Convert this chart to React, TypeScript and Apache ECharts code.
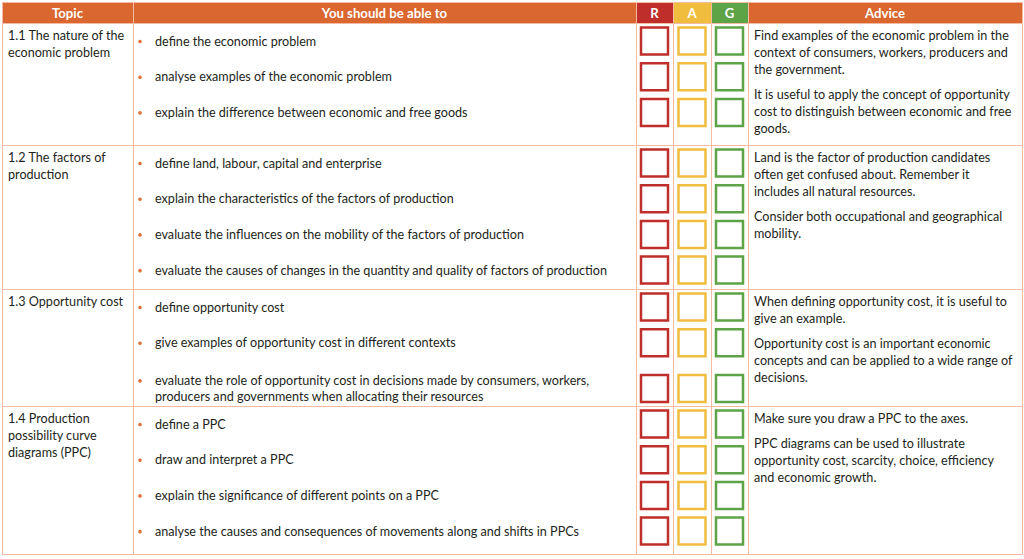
import React, { useEffect, useRef } from "react";
import * as echarts from "echarts";

const headers = ["Topic", "You should be able to", "R", "A", "G", "Advice"];

const topics: string[][] = [
  ["1.1 The nature of the", "economic problem"],
  ["1.2 The factors of", "production"],
  ["1.3 Opportunity cost"],
  ["1.4 Production", "possibility curve", "diagrams (PPC)"],
];

const skills: string[][][] = [
  [
    ["define the economic problem"],
    ["analyse examples of the economic problem"],
    ["explain the difference between economic and free goods"],
  ],
  [
    ["define land, labour, capital and enterprise"],
    ["explain the characteristics of the factors of production"],
    ["evaluate the influences on the mobility of the factors of production"],
    ["evaluate the causes of changes in the quantity and quality of factors of production"],
  ],
  [
    ["define opportunity cost"],
    ["give examples of opportunity cost in different contexts"],
    [
      "evaluate the role of opportunity cost in decisions made by consumers, workers,",
      "producers and governments when allocating their resources",
    ],
  ],
  [
    ["define a PPC"],
    ["draw and interpret a PPC"],
    ["explain the significance of different points on a PPC"],
    ["analyse the causes and consequences of movements along and shifts in PPCs"],
  ],
];

const advice: string[][][] = [
  [
    [
      "Find examples of the economic problem in the",
      "context of consumers, workers, producers and",
      "the government.",
    ],
    [
      "It is useful to apply the concept of opportunity",
      "cost to distinguish between economic and free",
      "goods.",
    ],
  ],
  [
    [
      "Land is the factor of production candidates",
      "often get confused about. Remember it",
      "includes all natural resources.",
    ],
    ["Consider both occupational and geographical", "mobility."],
  ],
  [
    ["When defining opportunity cost, it is useful to", "give an example."],
    [
      "Opportunity cost is an important economic",
      "concepts and can be applied to a wide range of",
      "decisions.",
    ],
  ],
  [
    ["Make sure you draw a PPC to the axes."],
    [
      "PPC diagrams can be used to illustrate",
      "opportunity cost, scarcity, choice, efficiency",
      "and economic growth.",
    ],
  ],
];

// layout
const COLS = [2, 133, 636, 673, 711, 748, 1022];
const HEAD_TOP = 2;
const HEAD_BOTTOM = 23;
const ROWS = [23, 145, 289, 406, 554];

const ORANGE = "#DA6630";
const RAG = ["#BF2E2A", "#F0BD3E", "#5DA447"];
const GRID = "#F3BCA2";
const TEXT = "#231F20";
const FONT = "Lato, 'Open Sans', sans-serif";
const FS = 12.6;
const LH = 17;

function buildGraphics() {
  const els: any[] = [];
  // header background
  els.push({
    type: "rect",
    shape: { x: COLS[0], y: HEAD_TOP, width: COLS[6] - COLS[0], height: HEAD_BOTTOM - HEAD_TOP },
    style: { fill: ORANGE },
  });
  for (let k = 0; k < 3; k++) {
    els.push({
      type: "rect",
      shape: { x: COLS[2 + k], y: HEAD_TOP, width: COLS[3 + k] - COLS[2 + k], height: HEAD_BOTTOM - HEAD_TOP },
      style: { fill: RAG[k] },
    });
  }
  headers.forEach((h, i) => {
    els.push({
      type: "text",
      x: (COLS[i] + COLS[i + 1]) / 2,
      y: (HEAD_TOP + HEAD_BOTTOM) / 2 + 0.5,
      style: {
        text: h,
        fill: "#ffffff",
        font: `bold 13.2px ${FONT}`,
        textAlign: "center",
        textVerticalAlign: "middle",
      },
    });
  });

  // grid lines
  const lineStyle = { stroke: GRID, lineWidth: 1 };
  for (let i = 0; i < COLS.length; i++) {
    els.push({
      type: "line",
      shape: { x1: COLS[i] + 0.5, y1: HEAD_TOP, x2: COLS[i] + 0.5, y2: ROWS[ROWS.length - 1] + 0.5 },
      style: lineStyle,
    });
  }
  els.push({
    type: "line",
    shape: { x1: COLS[0], y1: HEAD_TOP + 0.5, x2: COLS[6] + 0.5, y2: HEAD_TOP + 0.5 },
    style: lineStyle,
  });
  ROWS.forEach((y) => {
    els.push({
      type: "line",
      shape: { x1: COLS[0], y1: y + 0.5, x2: COLS[6] + 0.5, y2: y + 0.5 },
      style: lineStyle,
    });
  });

  // body rows
  topics.forEach((tLines, r) => {
    const top = ROWS[r];
    tLines.forEach((t, j) => {
      els.push({
        type: "text",
        x: COLS[0] + 6,
        y: top + 12 + j * LH,
        style: { text: t, fill: TEXT, font: `${FS}px ${FONT}`, textVerticalAlign: "middle" },
      });
    });

    let offset = 0;
    skills[r].forEach((lines, i) => {
      const extra = (lines.length - 1) * 10;
      const center = top + 18 + i * 35.7 + offset + extra;
      offset += extra;
      // bullet
      const firstLineY = center - ((lines.length - 1) * 16) / 2;
      els.push({
        type: "circle",
        shape: { cx: COLS[1] + 7, cy: firstLineY + 0.5, r: 1.8 },
        style: { fill: "#E26F35" },
      });
      lines.forEach((l, j) => {
        els.push({
          type: "text",
          x: COLS[1] + 22,
          y: firstLineY + j * 16,
          style: { text: l, fill: TEXT, font: `${FS}px ${FONT}`, textVerticalAlign: "middle" },
        });
      });
      // RAG boxes
      for (let k = 0; k < 3; k++) {
        const cx = (COLS[2 + k] + COLS[3 + k]) / 2;
        els.push({
          type: "rect",
          shape: { x: cx - 13.5, y: center - 13.5, width: 27, height: 27 },
          style: { fill: "#ffffff", stroke: RAG[k], lineWidth: 2.5 },
        });
      }
    });

    let y = top + 12;
    advice[r].forEach((para, p) => {
      if (p > 0) y += 8;
      para.forEach((l) => {
        els.push({
          type: "text",
          x: COLS[5] + 6,
          y,
          style: { text: l, fill: TEXT, font: `${FS}px ${FONT}`, textVerticalAlign: "middle" },
        });
        y += LH;
      });
    });
  });
  return els;
}

export default function App() {
  const ref = useRef<HTMLDivElement>(null);
  useEffect(() => {
    if (!ref.current) return;
    const chart = echarts.init(ref.current, null, { renderer: "svg" });
    chart.setOption({
      animation: false,
      backgroundColor: "#ffffff",
      graphic: buildGraphics(),
    });
    return () => chart.dispose();
  }, []);
  return (
    <div
      ref={ref}
      style={{ position: "fixed", left: 0, top: 0, width: 1024, height: 559, background: "#fff" }}
    />
  );
}
